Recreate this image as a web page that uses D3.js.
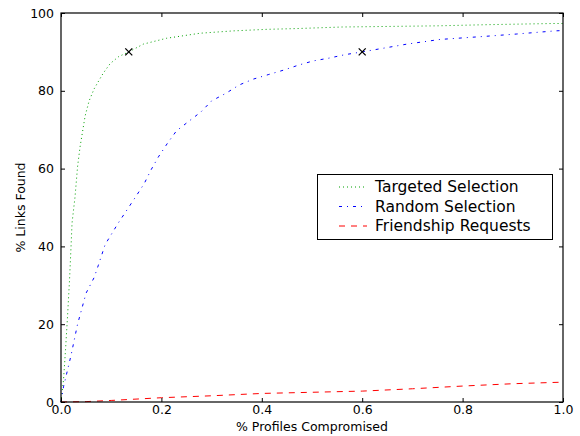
<!DOCTYPE html>
<html>
<head>
<meta charset="utf-8">
<script src="https://cdn.jsdelivr.net/npm/d3@7"></script>
<style>
  body { margin: 0; background: #fff; }
  text { font-family: "DejaVu Sans", sans-serif; fill: #000; }
</style>
</head>
<body>
<script>
// Targeted selection (green dotted)
const targetedX = [0, 0.005, 0.009, 0.013, 0.017, 0.02, 0.022, 0.028, 0.033, 0.038, 0.048, 0.056, 0.066, 0.074, 0.084, 0.098, 0.115, 0.135, 0.164, 0.21, 0.277, 0.343, 0.41, 0.47, 0.56, 0.75, 0.85, 0.98, 1.0];
const targetedY = [0, 5.7, 13.4, 22, 31.4, 40, 46, 52.8, 60.5, 65.6, 73.5, 77.4, 80.5, 82.3, 84.5, 87, 88.8, 90, 92, 93.5, 94.8, 95.4, 95.8, 96, 96.4, 96.7, 97, 97.3, 97.3];

// Random selection (blue dash-dot)
const randomX = [0, 0.005, 0.02, 0.033, 0.05, 0.066, 0.074, 0.088, 0.114, 0.149, 0.166, 0.179, 0.194, 0.212, 0.23, 0.255, 0.279, 0.3, 0.329, 0.355, 0.383, 0.414, 0.443, 0.473, 0.503, 0.534, 0.566, 0.6, 0.689, 0.755, 0.845, 0.908, 0.984, 1.0];
const randomY = [0, 3.9, 12, 20, 28, 32, 35, 40.5, 46, 52.8, 56.2, 59.6, 63, 66.5, 69.7, 72.2, 74.6, 77.4, 79.4, 81.5, 83, 84.2, 85.3, 86.6, 87.7, 88.4, 89.3, 90, 92, 93.2, 94, 94.6, 95.4, 95.5];

// Friendship requests (red dashed)
const friendX = [0, 0.05, 0.1, 0.2, 0.3, 0.4, 0.5, 0.6, 0.7, 0.8, 0.9, 1.0];
const friendY = [0, 0.1, 0.4, 1.1, 1.6, 2.2, 2.5, 2.8, 3.4, 4.1, 4.7, 5.1];

// the two black x markers
const markerX = [0.135, 0.6];
const markerY = [90, 90];

const xTicks = [0, 0.2, 0.4, 0.6, 0.8, 1.0];
const yTicks = [0, 20, 40, 60, 80, 100];

const width = 580, height = 436;
const margin = { left: 61, top: 13, right: 17, bottom: 34 };

const svg = d3.select("body").append("svg")
  .attr("width", width)
  .attr("height", height);

const x = d3.scaleLinear().domain([0, 1]).range([margin.left, width - margin.right]);
const y = d3.scaleLinear().domain([0, 100]).range([height - margin.bottom, margin.top]);

const series = [
  { name: "Targeted Selection", xs: targetedX, ys: targetedY, color: "#00a000", dash: "1,3" },
  { name: "Random Selection", xs: randomX, ys: randomY, color: "#0000ff", dash: "3,5,1,5" },
  { name: "Friendship Requests", xs: friendX, ys: friendY, color: "#ff0000", dash: "6,6" }
];

const line = d3.line().x(d => x(d[0])).y(d => y(d[1]));

const plot = svg.append("g");
series.forEach(s => {
  plot.append("path")
    .datum(s.xs.map((v, i) => [v, s.ys[i]]))
    .attr("d", line)
    .attr("fill", "none")
    .attr("stroke", s.color)
    .attr("stroke-width", 1)
    .attr("stroke-dasharray", s.dash);
});

// markers
markerX.forEach((mx, i) => {
  const cx = x(mx), cy = y(markerY[i]), r = 3.5;
  plot.append("path")
    .attr("d", `M${cx - r},${cy - r}L${cx + r},${cy + r}M${cx - r},${cy + r}L${cx + r},${cy - r}`)
    .attr("stroke", "#000")
    .attr("stroke-width", 1.3);
});

// axes with inward ticks, on all four sides
const tickLen = 4;
svg.append("g")
  .attr("transform", `translate(0,${y(0)})`)
  .call(d3.axisBottom(x).tickValues(xTicks).tickFormat(d3.format(".1f")).tickSizeInner(-tickLen).tickSizeOuter(0).tickPadding(3))
  .call(g => g.select(".domain").remove())
  .call(g => g.selectAll("text").attr("font-size", 12.5).attr("font-family", "DejaVu Sans"));

svg.append("g")
  .attr("transform", `translate(0,${y(100)})`)
  .call(d3.axisTop(x).tickValues(xTicks).tickFormat("").tickSizeInner(-tickLen).tickSizeOuter(0))
  .call(g => g.select(".domain").remove());

svg.append("g")
  .attr("transform", `translate(${x(0)},0)`)
  .call(d3.axisLeft(y).tickValues(yTicks).tickSizeInner(-tickLen).tickSizeOuter(0).tickPadding(7))
  .call(g => g.select(".domain").remove())
  .call(g => g.selectAll("text").attr("font-size", 12.5).attr("font-family", "DejaVu Sans"));

svg.append("g")
  .attr("transform", `translate(${x(1)},0)`)
  .call(d3.axisRight(y).tickValues(yTicks).tickFormat("").tickSizeInner(-tickLen).tickSizeOuter(0))
  .call(g => g.select(".domain").remove());

// frame
svg.append("rect")
  .attr("x", x(0)).attr("y", y(100))
  .attr("width", x(1) - x(0)).attr("height", y(0) - y(100))
  .attr("fill", "none").attr("stroke", "#000").attr("stroke-width", 1.2);

// axis labels
svg.append("text")
  .attr("x", (x(0) + x(1)) / 2).attr("y", 431)
  .attr("text-anchor", "middle").attr("font-size", 12.5)
  .text("% Profiles Compromised");

svg.append("text")
  .attr("transform", `translate(25,${(y(0) + y(100)) / 2}) rotate(-90)`)
  .attr("text-anchor", "middle").attr("font-size", 12.5)
  .text("% Links Found");

// legend
const legend = svg.append("g");
legend.append("rect")
  .attr("x", 317.5).attr("y", 174.5).attr("width", 235).attr("height", 65)
  .attr("fill", "#fff").attr("stroke", "#000").attr("stroke-width", 1);

series.forEach((s, i) => {
  const ly = 187 + i * 19.5;
  legend.append("line")
    .attr("x1", 339).attr("x2", 367).attr("y1", ly).attr("y2", ly)
    .attr("stroke", s.color).attr("stroke-width", 1).attr("stroke-dasharray", s.dash);
  legend.append("text")
    .attr("x", 375).attr("y", ly).attr("dy", "0.35em")
    .attr("font-size", 15.5)
    .text(s.name);
});
</script>
</body>
</html>
